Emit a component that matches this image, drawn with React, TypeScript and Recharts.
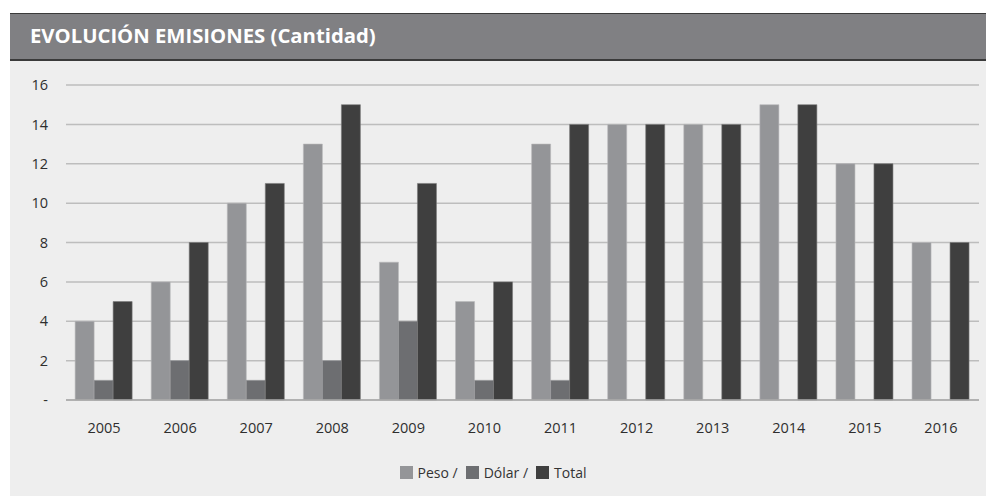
import React from 'react';
import { BarChart, Bar, XAxis, YAxis, CartesianGrid, Legend } from 'recharts';

const years = ['2005', '2006', '2007', '2008', '2009', '2010', '2011', '2012', '2013', '2014', '2015', '2016'];
const peso = [4, 6, 10, 13, 7, 5, 13, 14, 14, 15, 12, 8];
const dolar: (number | null)[] = [1, 2, 1, 2, 4, 1, 1, null, null, null, null, null];
const total = [5, 8, 11, 15, 11, 6, 14, 14, 14, 15, 12, 8];
const yTicks = [0, 2, 4, 6, 8, 10, 12, 14, 16];
const seriesNames = ['Peso /', 'Dólar /', 'Total'];
const seriesColors = ['#949598', '#6d6e71', '#3f3f3f'];

const data = years.map((y, i) => ({ year: y, peso: peso[i], dolar: dolar[i], total: total[i] }));

const FONT = '"Open Sans", "Noto Sans", sans-serif';

const LegendContent = () => (
  <div style={{ display: 'flex', justifyContent: 'center', alignItems: 'center', fontFamily: FONT, fontSize: 14, color: '#333333' }}>
    {seriesNames.map((n, i) => (
      <div key={n} style={{ display: 'flex', alignItems: 'center', marginRight: i < seriesNames.length - 1 ? 8 : 0 }}>
        <span style={{ display: 'inline-block', width: 13, height: 13, background: seriesColors[i], marginRight: 5 }} />
        <span>{n}</span>
      </div>
    ))}
  </div>
);

export default function App() {
  return (
    <div style={{ position: 'absolute', left: 0, top: 0, width: 986, height: 496, background: '#ffffff', overflow: 'hidden' }}>
      <div style={{ position: 'absolute', left: 10, top: 60, width: 976, height: 436, background: '#eeeeee' }} />
      <div
        style={{
          position: 'absolute', left: 10, top: 13, width: 976, height: 45,
          background: '#808083', borderTop: '1px solid #3a3a3a', borderBottom: '2px solid #3a3a3a',
          boxSizing: 'content-box',
        }}
      >
        <div style={{ position: 'absolute', left: 20, top: 7, color: '#ffffff', fontFamily: FONT, fontWeight: 700, fontSize: 20.3, whiteSpace: 'nowrap' }}>
          EVOLUCIÓN EMISIONES (Cantidad)
        </div>
      </div>
      <div style={{ position: 'absolute', left: 0, top: 0 }}>
        <BarChart
          width={986}
          height={496}
          data={data}
          margin={{ top: 85, right: 7, bottom: 66, left: 0 }}
          barCategoryGap="12%"
          barGap={0}
        >
          <CartesianGrid vertical={false} stroke="#bdbdbd" strokeWidth={1.5} />
          <XAxis
            dataKey="year"
            height={30}
            tickLine={false}
            tickSize={0}
            tickMargin={23}
            axisLine={{ stroke: '#a8a8a8', strokeWidth: 1.5 }}
            tick={{ fill: '#2e2e2e', fontSize: 14.5, fontFamily: FONT }}
          />
          <YAxis
            width={66}
            domain={[0, 16]}
            ticks={yTicks}
            interval={0}
            axisLine={false}
            tickLine={false}
            tickSize={0}
            tickMargin={18}
            tickFormatter={(v: number) => (v === 0 ? '-' : String(v))}
            tick={{ fill: '#2e2e2e', fontSize: 14.5, fontFamily: FONT }}
          />
          <Legend
            verticalAlign="middle"
            align="center"
            layout="horizontal"
            wrapperStyle={{ top: 463, left: 0, width: 986 }}
            content={<LegendContent />}
          />
          <Bar dataKey="peso" name={seriesNames[0]} fill={seriesColors[0]} stroke="#b8b9bb" strokeWidth={0.6} isAnimationActive={false} />
          <Bar dataKey="dolar" name={seriesNames[1]} fill={seriesColors[1]} stroke="#9a9b9d" strokeWidth={0.6} isAnimationActive={false} />
          <Bar dataKey="total" name={seriesNames[2]} fill={seriesColors[2]} stroke="#7a7a7a" strokeWidth={0.6} isAnimationActive={false} />
        </BarChart>
      </div>
    </div>
  );
}
